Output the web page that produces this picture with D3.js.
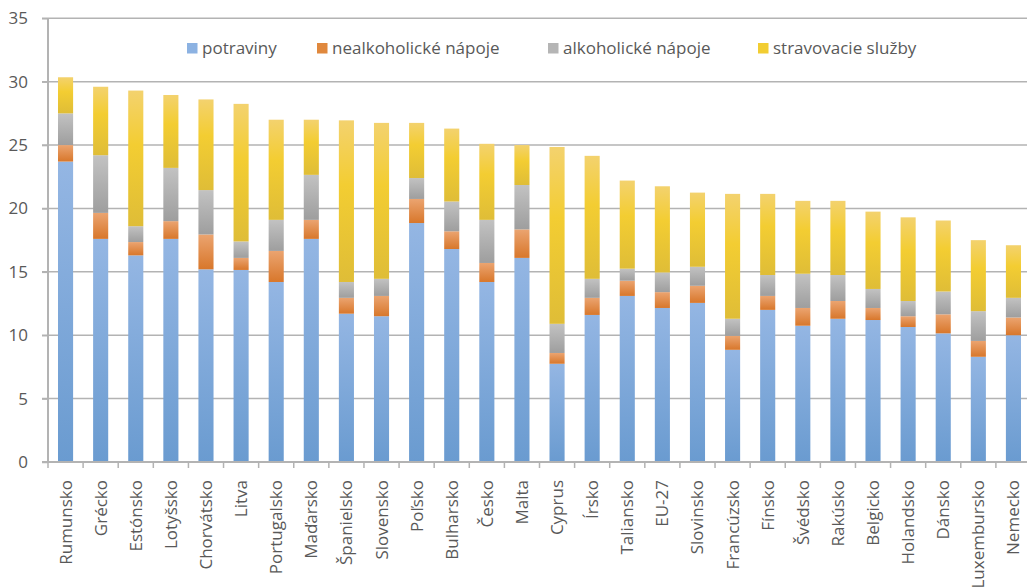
<!DOCTYPE html>
<html><head><meta charset="utf-8">
<script src="https://cdn.jsdelivr.net/npm/d3@7"></script>
<style>body{margin:0;background:#fff;} svg{display:block;font-family:"Open Sans",sans-serif;}</style>
</head><body>
<svg id="c" width="1027" height="587"></svg>
<script>
const categories = ["Rumunsko","Grécko","Estónsko","Lotyšsko","Chorvátsko","Litva","Portugalsko","Maďarsko","Španielsko","Slovensko","Poľsko","Bulharsko","Česko","Malta","Cyprus","Írsko","Taliansko","EU-27","Slovinsko","Francúzsko","Fínsko","Švédsko","Rakúsko","Belgicko","Holandsko","Dánsko","Luxembursko","Nemecko"];
const potraviny = [23.7,17.6,16.3,17.6,15.2,15.15,14.2,17.6,11.7,11.5,18.85,16.8,14.2,16.1,7.75,11.6,13.1,12.15,12.55,8.85,12.0,10.75,11.3,11.2,10.65,10.15,8.3,10.0];
const nealkoholicke = [1.3,2.05,1.05,1.4,2.75,0.95,2.45,1.5,1.25,1.6,1.9,1.4,1.5,2.25,0.85,1.35,1.2,1.25,1.35,1.1,1.1,1.4,1.4,0.95,0.85,1.5,1.25,1.4];
const alkoholicke = [2.5,4.55,1.25,4.2,3.5,1.3,2.45,3.55,1.25,1.35,1.65,2.35,3.4,3.5,2.3,1.5,0.95,1.55,1.5,1.35,1.65,2.7,2.05,1.5,1.2,1.8,2.35,1.55];
const stravovacie = [2.85,5.4,10.7,5.75,7.15,10.85,7.9,4.35,12.75,12.3,4.35,5.75,6.0,3.15,13.95,9.7,6.95,6.8,5.85,9.85,6.4,5.75,5.85,6.1,6.6,5.6,5.6,4.15];
const seriesNames = ["potraviny","nealkoholické nápoje","alkoholické nápoje","stravovacie služby"];
const yTicks = [0,5,10,15,20,25,30,35];

const svg = d3.select("#c");
const gradStops = [
  [["0%","#94b6e3"],["100%","#6a9bd0"]],
  [["0%","#eba470"],["100%","#d8772b"]],
  [["0%","#c2c2c2"],["100%","#9e9e9e"]],
  [["0%","#f3d26e"],["40%","#f3cd32"],["100%","#dfbd37"]]
];
const defs = svg.append("defs");
gradStops.forEach((st,i)=>{
  const g = defs.append("linearGradient").attr("id","g"+i).attr("x1",0).attr("y1",0).attr("x2",0).attr("y2",1);
  st.forEach(s=>g.append("stop").attr("offset",s[0]).attr("stop-color",s[1]));
});
const legendColors = ["#8cb2e2","#e0883d","#b5b5b5","#f2cd32"];

const x = d3.scaleBand().domain(categories).range([48,1031]).paddingInner(0.57).paddingOuter(0.285);
const y = d3.scaleLinear().domain([0,35]).range([462,18.3]);

// gridlines
svg.append("g").selectAll("line").data(yTicks.filter(d=>d>0)).join("line")
  .attr("x1",42).attr("x2",1027).attr("y1",d=>y(d)).attr("y2",d=>y(d))
  .attr("stroke","#b3b3b3").attr("stroke-width",1.5);

// stacked bars
const rows = categories.map((c,i)=>({cat:c, s0:potraviny[i], s1:nealkoholicke[i], s2:alkoholicke[i], s3:stravovacie[i]}));
const stack = d3.stack().keys(["s0","s1","s2","s3"])(rows);
stack.forEach((layer,li)=>{
  svg.append("g").selectAll("rect").data(layer).join("rect")
    .attr("x",d=>x(d.data.cat)).attr("width",x.bandwidth())
    .attr("y",d=>y(d[1])).attr("height",d=>y(d[0])-y(d[1]))
    .attr("fill","url(#g"+li+")");
});

// y axis
const yAxis = d3.axisLeft(y).tickValues(yTicks).tickSize(6).tickPadding(14);
const ya = svg.append("g").attr("transform","translate(48,0)").call(yAxis);
ya.select(".domain").attr("stroke","#b3b3b3").attr("stroke-width",2).attr("d","M0,18.3V462");
ya.selectAll(".tick line").attr("stroke","#b3b3b3").attr("stroke-width",1.5);
ya.selectAll("text").attr("fill","#595959").style("font-size","17px").style("font-family","'Open Sans',sans-serif");

// x axis
const xa = svg.append("g").attr("transform","translate(0,462)");
xa.append("line").attr("x1",42).attr("x2",1027).attr("y1",0).attr("y2",0).attr("stroke","#b3b3b3").attr("stroke-width",2);
const step = x.step();
xa.selectAll("line.tk").data(d3.range(categories.length+1)).join("line").attr("class","tk")
  .attr("x1",i=>48+i*step).attr("x2",i=>48+i*step).attr("y1",0).attr("y2",6)
  .attr("stroke","#b3b3b3").attr("stroke-width",1.5);
xa.selectAll("text").data(categories).join("text")
  .attr("transform",d=>`translate(${x(d)+x.bandwidth()/2+6},18) rotate(-90)`)
  .attr("text-anchor","end")
  .attr("fill","#595959").style("font-size","17px")
  .text(d=>d);

// legend
const legX = [187,317,548,758];
const lg = svg.append("g");
seriesNames.forEach((n,i)=>{
  lg.append("rect").attr("x",legX[i]).attr("y",43).attr("width",10.5).attr("height",10.5).attr("fill",legendColors[i]);
  lg.append("text").attr("x",legX[i]+15).attr("y",54).attr("fill","#595959").style("font-size","17px").text(n);
});
</script>
</body></html>
